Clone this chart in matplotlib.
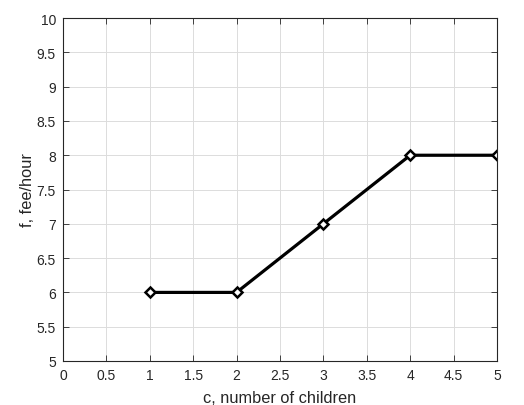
import numpy as np
import matplotlib
matplotlib.use("Agg")
import matplotlib.pyplot as plt

plt.rcParams['font.family'] = ['Liberation Sans', 'DejaVu Sans']

# data
children = [1, 2, 3, 4, 5]
fee = [6, 6, 7, 8, 8]
xticks = np.arange(0, 5.01, 0.5)
yticks = np.arange(5, 10.01, 0.5)

fig = plt.figure(figsize=(5.24, 4.06), dpi=100)
ax = fig.add_axes([0.120, 0.1084, 0.8285, 0.8446])

ax.plot(children, fee, color='black', lw=2.3, marker='D', markersize=5,
        markerfacecolor='white', markeredgecolor='black', markeredgewidth=1.8)

ax.set_xlim(0, 5)
ax.set_ylim(5, 10)
ax.set_xticks(xticks)
ax.set_yticks(yticks)
ax.set_xticklabels([f"{t:g}" for t in xticks])
ax.set_yticklabels([f"{t:g}" for t in yticks])
ax.tick_params(direction='in', top=True, right=True, labelsize=10,
               colors='#262626', length=4, width=0.6, pad=5)
ax.grid(True, color='#dcdcdc', lw=0.7)
ax.set_axisbelow(True)
for s in ax.spines.values():
    s.set_linewidth(0.8)
    s.set_color('#262626')

ax.set_xlabel('c, number of children', fontsize=11.8, color='#262626', labelpad=6)
ax.set_ylabel('f, fee/hour', fontsize=11.8, color='#262626', labelpad=1.5)

fig.savefig('out.png', dpi=100)
